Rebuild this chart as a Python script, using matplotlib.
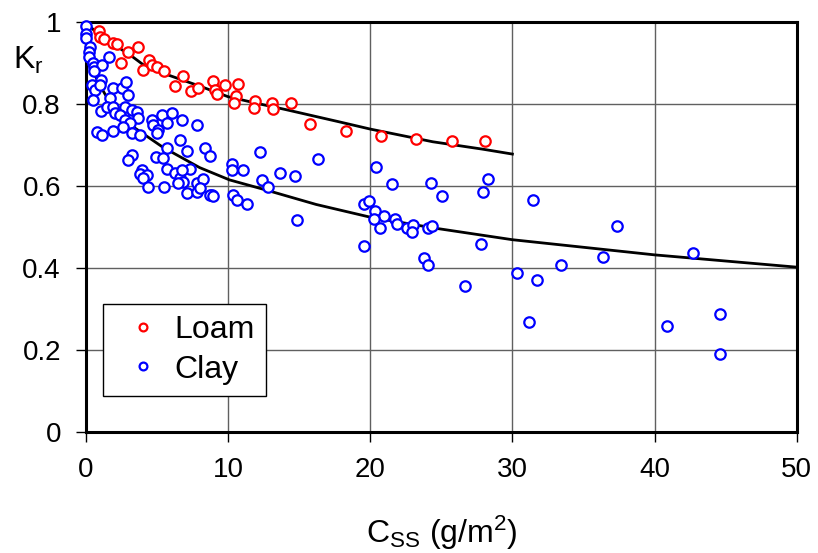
import matplotlib
matplotlib.use('Agg')
import matplotlib.pyplot as plt

plt.rcParams['font.family'] = ['Liberation Sans', 'DejaVu Sans']
plt.rcParams['mathtext.default'] = 'regular'

# Loam data (C_SS, Kr)
loam_x = [0.91, 0.98, 1.27, 1.90, 2.18, 2.46, 2.95, 3.66, 4.01, 4.43, 4.64, 4.99,
          5.49, 6.26, 6.82, 7.38, 7.88, 8.93, 9.07, 9.21, 9.77, 10.69, 10.55, 10.41,
          11.88, 11.81, 13.08, 13.15, 14.42, 15.75, 18.28, 20.75, 23.21, 25.74, 28.06]
loam_y = [0.978, 0.963, 0.959, 0.949, 0.946, 0.900, 0.927, 0.939, 0.883, 0.907, 0.895, 0.890,
          0.880, 0.844, 0.868, 0.832, 0.839, 0.856, 0.834, 0.824, 0.846, 0.849, 0.820, 0.802,
          0.807, 0.790, 0.802, 0.788, 0.802, 0.751, 0.734, 0.722, 0.715, 0.710, 0.710]

# Clay data (C_SS, Kr)
clay_x = [0.00, 0.00, 0.00, 0.28, 0.21, 0.21, 0.49, 0.56, 1.13, 1.62, 0.56, 1.05,
          0.42, 0.63, 0.49, 0.98, 1.90, 2.53, 2.81, 2.95, 1.69, 1.05, 1.48, 1.90,
          2.74, 2.04, 2.39, 2.74, 3.23, 3.59, 3.66, 3.09, 2.60, 0.77, 1.13, 1.90,
          3.23, 3.80, 4.64, 5.34, 6.05, 6.75, 7.81, 4.71, 5.06, 4.99, 5.70, 6.61,
          7.10, 8.37, 8.72, 5.70, 3.23, 2.95, 4.92, 5.41, 5.70, 3.94, 3.80, 4.29,
          4.01, 4.36, 5.49, 6.26, 6.61, 6.82, 7.31, 6.75, 6.47, 7.10, 7.81, 8.23,
          7.81, 8.86, 10.27, 10.27, 10.34, 10.62, 8.02, 8.72, 8.93, 11.04, 12.24, 12.38,
          12.80, 13.64, 14.70, 16.32, 11.32, 14.84, 20.39, 21.52, 19.55, 19.90, 20.32, 20.96,
          20.25, 20.68, 21.73, 21.87, 22.57, 23.00, 22.93, 24.05, 24.33, 24.26, 25.04, 27.92,
          28.27, 27.78, 19.55, 23.77, 24.05, 30.31, 26.65, 31.43, 31.72, 31.15, 33.40, 36.36,
          37.34, 40.86, 42.69, 44.59, 44.59]
clay_y = [0.990, 0.971, 0.961, 0.939, 0.927, 0.915, 0.900, 0.890, 0.895, 0.915, 0.880, 0.859,
          0.846, 0.834, 0.810, 0.846, 0.839, 0.839, 0.854, 0.822, 0.815, 0.783, 0.793, 0.793,
          0.793, 0.778, 0.773, 0.761, 0.785, 0.780, 0.766, 0.754, 0.744, 0.732, 0.724, 0.734,
          0.729, 0.724, 0.761, 0.773, 0.778, 0.761, 0.749, 0.749, 0.737, 0.729, 0.754, 0.712,
          0.685, 0.693, 0.673, 0.693, 0.676, 0.663, 0.671, 0.668, 0.641, 0.639, 0.629, 0.627,
          0.620, 0.598, 0.598, 0.632, 0.620, 0.610, 0.641, 0.639, 0.607, 0.583, 0.607, 0.617,
          0.585, 0.578, 0.654, 0.639, 0.578, 0.566, 0.595, 0.578, 0.576, 0.639, 0.683, 0.615,
          0.598, 0.632, 0.624, 0.666, 0.556, 0.517, 0.646, 0.605, 0.556, 0.563, 0.539, 0.527,
          0.520, 0.498, 0.520, 0.507, 0.498, 0.505, 0.488, 0.498, 0.502, 0.607, 0.576, 0.585,
          0.617, 0.459, 0.454, 0.424, 0.407, 0.388, 0.356, 0.566, 0.371, 0.268, 0.407, 0.427,
          0.502, 0.259, 0.437, 0.288, 0.190]

# fitted curves
loam_fit_x = [0, 1, 2.25, 3.3, 4.15, 5.7, 7.5, 8, 10, 12, 14, 17.9, 20, 24.4, 27.9, 30]
loam_fit_y = [1.0, 0.965, 0.939, 0.915, 0.893, 0.872, 0.850, 0.844, 0.818, 0.802, 0.787,
              0.756, 0.739, 0.708, 0.690, 0.678]
clay_fit_x = [0, 0.5, 1, 1.5, 3.3, 5.4, 8, 10.1, 12.7, 16.2, 20, 24.4, 30, 40, 50]
clay_fit_y = [0.93, 0.88, 0.845, 0.815, 0.745, 0.695, 0.645, 0.615, 0.590, 0.555, 0.524,
              0.498, 0.469, 0.432, 0.402]

fig = plt.figure(figsize=(8.18, 5.53), dpi=100)
ax = fig.add_axes([0.105, 0.219, 0.869, 0.741])

ax.plot(loam_fit_x, loam_fit_y, color='black', lw=2, zorder=2)
ax.plot(clay_fit_x, clay_fit_y, color='black', lw=2, zorder=2)
ax.plot(loam_x, loam_y, 'o', mfc='white', mec='red', mew=1.6, ms=7.5,
        label='Loam', clip_on=False, zorder=3)
ax.plot(clay_x, clay_y, 'o', mfc='white', mec='blue', mew=1.6, ms=7.5,
        label='Clay', clip_on=False, zorder=3)

ax.set_xlim(0, 50)
ax.set_ylim(0, 1)
ax.set_xticks([0, 10, 20, 30, 40, 50])
ax.set_yticks([0, 0.2, 0.4, 0.6, 0.8, 1])
ax.set_yticklabels(['0', '0.2', '0.4', '0.6', '0.8', '1'])
ax.grid(True, color='#606060', lw=1)
ax.set_axisbelow(True)
ax.tick_params(labelsize=20, length=7, width=1, direction='out', pad=11)
for s in ax.spines.values():
    s.set_linewidth(2.2)

ax.set_xlabel('C$_{SS}$ (g/m$^{2}$)', fontsize=23, labelpad=22)
fig.text(0.035, 0.89, 'K$_{r}$', fontsize=23, ha='center', va='center')

leg = ax.legend(loc='lower left', bbox_to_anchor=(0.024, 0.088), fontsize=23,
                borderaxespad=0, fancybox=False, framealpha=1, edgecolor='black',
                handletextpad=0.1, borderpad=0.35, labelspacing=0.3, handlelength=1.8,
                markerscale=0.75)
leg.get_frame().set_linewidth(1)

fig.savefig('out.png', dpi=100)
